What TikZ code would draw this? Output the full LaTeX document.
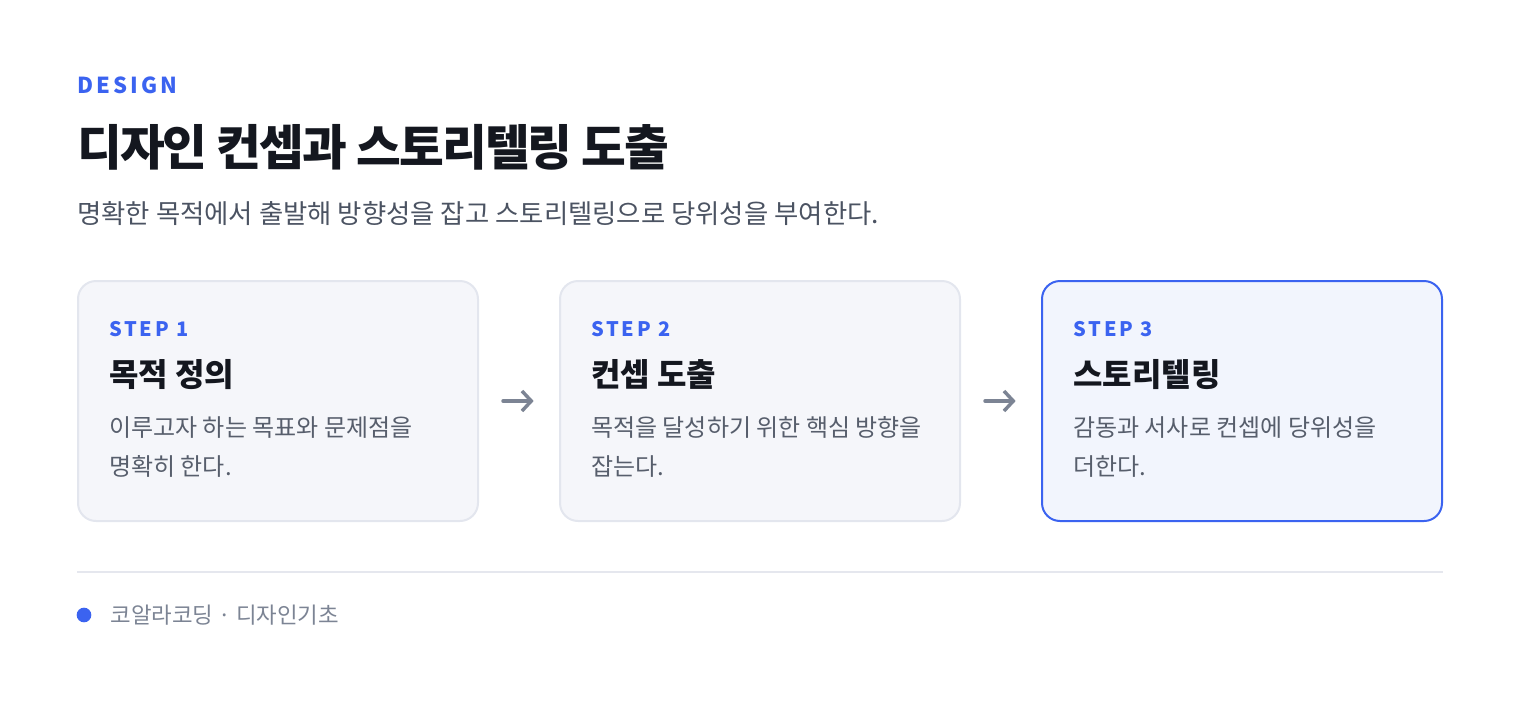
\documentclass[tikz,border=0pt]{standalone}
\usepackage{fontspec}
\setmainfont{Noto Sans CJK KR}
\newfontfamily\spacedfont{Noto Sans CJK KR}[LetterSpace=14]
\newfontfamily\tightfont{Noto Sans CJK KR}[LetterSpace=-4]
\usetikzlibrary{arrows.meta,positioning}
\definecolor{accent}{HTML}{3B63F0}
\definecolor{ink}{HTML}{14171F}
\definecolor{subink}{HTML}{4B5362}
\definecolor{bodyink}{HTML}{575E6C}
\definecolor{cardfill}{HTML}{F5F6FA}
\definecolor{cardline}{HTML}{E3E6EE}
\definecolor{activefill}{HTML}{F2F5FD}
\definecolor{arrowink}{HTML}{7C8494}
\definecolor{rule}{HTML}{E5E7EE}

\begin{document}
\begin{tikzpicture}[x=0.75pt, y=-0.75pt,
        line cap=round, line join=round,
        card/.style={draw=cardline, line width=1.5pt, fill=cardfill,
            rounded corners=13.5pt, minimum width=300pt, minimum height=180pt, inner sep=0pt},
        activecard/.style={card, draw=accent, fill=activefill},
        steplbl/.style={anchor=base west, inner sep=0pt, text=accent,
            font=\spacedfont\bfseries\fontsize{15}{18}\selectfont},
        cardtitle/.style={anchor=base west, inner sep=0pt, text=ink,
            font=\bfseries\fontsize{24}{28}\selectfont},
        carddesc/.style={anchor=base west, inner sep=0pt, text=bodyink, align=left,
            font=\fontsize{18}{29.25}\selectfont},
        flow/.style={draw=arrowink, line width=2.6pt, shorten <=18pt, shorten >=19pt,
            -{Straight Barb[length=7pt, width=15pt]}}
    ]
    \useasboundingbox (0,0) rectangle (1520,707);

    % (1) Header
    \node[anchor=base west, inner sep=0pt, text=accent,
        font=\spacedfont\bfseries\fontsize{16.5}{20}\selectfont] (kicker) at (77,93) {DESIGN};
    \node[anchor=base west, inner sep=0pt, text=ink,
        font=\tightfont\bfseries\fontsize{36.5}{44}\selectfont] (title) at (77,165) {디자인 컨셉과 스토리텔링 도출};
    \node[anchor=base west, inner sep=0pt, text=subink,
        font=\fontsize{19.8}{24}\selectfont] (lead) at (77,223)
        {명확한 목적에서 출발해 방향성을 잡고 스토리텔링으로 당위성을 부여한다.};

    % (2) Step cards
    \node[card] (box1) at (278,401) {};
    \node[card] (box2) at (760,401) {};
    \node[activecard] (box3) at (1242,401) {};

    % Step 1
    \node[steplbl] (step1) at (109,336) {STEP 1};
    \node[cardtitle] (name1) at (109,386) {목적 정의};
    \node[carddesc] (desc1) at (109,475) {이루고자 하는 목표와 문제점을\\명확히 한다.};

    % Step 2
    \node[steplbl] (step2) at (591,336) {STEP 2};
    \node[cardtitle] (name2) at (591,386) {컨셉 도출};
    \node[carddesc] (desc2) at (591,475) {목적을 달성하기 위한 핵심 방향을\\잡는다.};

    % Step 3
    \node[steplbl] (step3) at (1073,336) {STEP 3};
    \node[cardtitle] (name3) at (1073,386) {스토리텔링};
    \node[carddesc] (desc3) at (1073,475) {감동과 서사로 컨셉에 당위성을\\더한다.};

    % (3) Arrows between cards
    \draw[flow] (box1.east) -- (box2.west);
    \draw[flow] (box2.east) -- (box3.west);

    % (4) Footer
    \coordinate (ruleL) at (77,572);
    \coordinate (ruleR) at (1443,572);
    \draw[rule, line width=1.5pt, line cap=butt] (ruleL) -- (ruleR);
    \node[circle, fill=accent, inner sep=0pt, minimum size=11pt] (dot) at (84,615) {};
    \node[right=14pt of dot, inner sep=0pt, text=arrowink,
        font=\fontsize{16.8}{20}\selectfont] (credit) {코알라코딩 · 디자인기초};
\end{tikzpicture}
\end{document}
